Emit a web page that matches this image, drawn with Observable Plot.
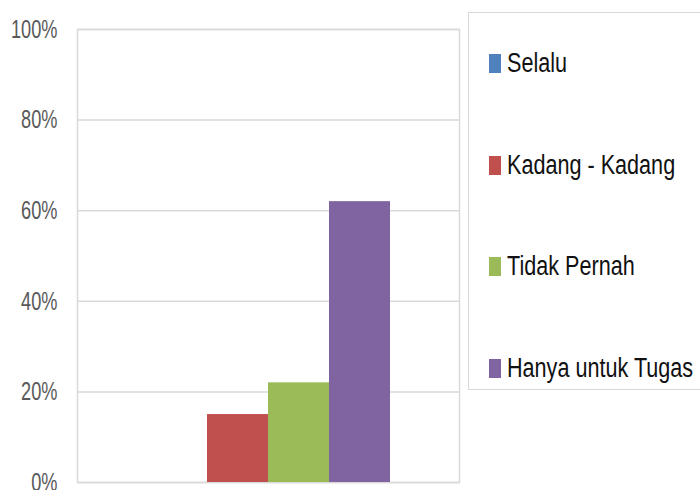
<!DOCTYPE html>
<html>
<head>
<meta charset="utf-8">
<script src="https://cdn.jsdelivr.net/npm/d3@7"></script>
<script src="https://cdn.jsdelivr.net/npm/@observablehq/plot@0.6"></script>
<style>
  html, body { margin: 0; padding: 0; background: #fff; }
  #wrap { position: relative; width: 700px; height: 490px; overflow: hidden; }
  #legend { position: absolute; left: 468px; top: 12px; width: 260px; height: 378px;
    border: 1px solid #d9d9d9; box-sizing: border-box; background: #fff;
    font-family: "Liberation Sans", sans-serif; font-size: 27px; color: #111; }
  .item { position: absolute; left: 20px; display: flex; align-items: center; white-space: nowrap; }
  .sw { width: 12px; height: 19px; margin-right: 6px; flex: none; }
  .lbl { display: inline-block; transform: scaleX(0.8); transform-origin: left center; }
</style>
</head>
<body>
<div id="wrap"><div id="legend"></div></div>
<script>
const categories = ["Selalu", "Kadang - Kadang", "Tidak Pernah", "Hanya untuk Tugas"];
const values = [0, 0.15, 0.22, 0.62];
const colors = ["#4F81BD", "#C0504D", "#9BBB59", "#8064A2"];
const yTicks = [0, 0.2, 0.4, 0.6, 0.8, 1.0];

const data = categories.map((c, i) => ({category: c, value: values[i]}));
const fmt = d => Math.round(d * 100) + "%";

const chart = Plot.plot({
  width: 700,
  height: 490,
  marginLeft: 77,
  marginRight: 241,
  marginTop: 29,
  marginBottom: 8,
  style: {fontFamily: "'Liberation Sans', sans-serif", fontSize: "26px", background: "#fff"},
  x: {type: "band", domain: categories, paddingInner: 0, paddingOuter: 1.1, axis: null},
  y: {domain: [0, 1], ticks: yTicks, tickFormat: fmt, tickSize: 0, tickPadding: 20, label: null, axis: null},
  color: {domain: categories, range: colors},
  marks: [
    Plot.gridY(yTicks, {stroke: "#d9d9d9", strokeOpacity: 1, strokeWidth: 1.5}),
    Plot.frame({stroke: "#d9d9d9", strokeWidth: 1.5}),
    Plot.barY(data, {x: "category", y: "value", fill: "category"}),
    Plot.axisY({ticks: yTicks, tickFormat: fmt, tickSize: 0, tickPadding: 20, fill: "#595959", fontSize: 26, label: null, className: "yax"})
  ]
});
// condense the tick labels horizontally (the reference uses a condensed face)
chart.querySelectorAll("g[aria-label='y-axis tick label'] text").forEach(t => {
  const tr = t.getAttribute("transform") || "";
  t.setAttribute("transform", tr + " scale(0.7,1)");
});
const wrap = document.getElementById("wrap");
wrap.insertBefore(chart, wrap.firstChild);

const legend = document.getElementById("legend");
const centers = [63, 165, 266, 368];
categories.forEach((c, i) => {
  const it = document.createElement("div");
  it.className = "item";
  it.style.top = (centers[i] - 13 - 17) + "px";
  it.style.height = "34px";
  it.innerHTML = `<span class="sw" style="background:${colors[i]}"></span><span class="lbl">${c}</span>`;
  legend.appendChild(it);
});
</script>
</body>
</html>
